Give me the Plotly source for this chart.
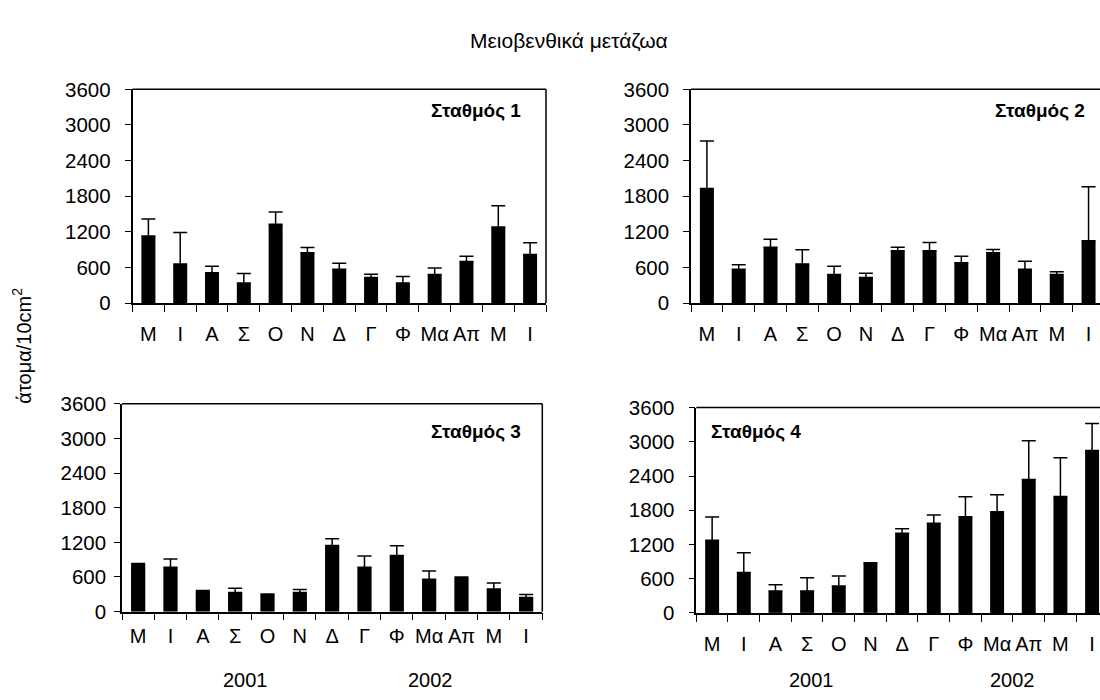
import plotly.graph_objects as go

months = ["Μ", "Ι", "Α", "Σ", "Ο", "Ν", "Δ", "Γ", "Φ", "Μα", "Απ", "Μ", "Ι"]
positions = list(range(len(months)))

# Station 1
st1_mean = [1130, 660, 510, 340, 1330, 850, 570, 430, 340, 480, 700, 1280, 820]
st1_err = [285, 530, 110, 160, 205, 85, 100, 55, 110, 110, 90, 360, 195]
# Station 2
st2_mean = [1930, 570, 940, 660, 480, 430, 880, 880, 680, 850, 570, 480, 1050]
st2_err = [800, 75, 135, 240, 140, 75, 60, 140, 110, 55, 135, 50, 910]
# Station 3
st3_mean = [820, 770, 350, 330, 295, 330, 1145, 770, 970, 560, 575, 390, 245]
st3_err = [15, 140, 15, 75, 10, 55, 115, 195, 170, 145, 25, 105, 50]
# Station 4
st4_mean = [1275, 710, 385, 385, 470, 865, 1395, 1570, 1685, 1775, 2340, 2040, 2845]
st4_err = [405, 345, 110, 230, 175, 15, 80, 145, 350, 295, 680, 680, 475]

station_names = ["Σταθμός 1", "Σταθμός 2", "Σταθμός 3", "Σταθμός 4"]
y_ticks = [0, 600, 1200, 1800, 2400, 3000, 3600]
years = ["2001", "2002"]
main_title = "Μειοβενθικά μετάζωα"
y_title = "άτομα/10cm<sup>2</sup>"

W, H = 1100, 700
FONT = "Liberation Sans, Arial, sans-serif"

# pixel geometry of panels: (left, right, top, bottom, x_upper_range, ylabel_standoff, xlabel_standoff)
panels = [
    (132.5, 546.0, 80, 301, 12.5, 10, 12),
    (691.0, 1100.0, 80, 301, 12.36, 10, 12),
    (122.0, 542.3, 405, 620, 12.5, 4, 6),
    (696.3, 1100.0, 409, 621.3, 12.25, 10, 12),
]
data = [(st1_mean, st1_err), (st2_mean, st2_err), (st3_mean, st3_err), (st4_mean, st4_err)]

fig = go.Figure()
layout = dict(
    width=W, height=H, margin=dict(l=0, r=0, t=0, b=0),
    paper_bgcolor="white", plot_bgcolor="white", showlegend=False,
    font=dict(family=FONT, size=20, color="black"),
    bargap=0.56,
)
shapes = []
annotations = []

for i, ((l, r, t, b, xup, ysd, xsd), (mean, err)) in enumerate(zip(panels, data)):
    n = i + 1
    xa = "x" if n == 1 else f"x{n}"
    ya = "y" if n == 1 else f"y{n}"
    fig.add_trace(go.Bar(
        x=positions, y=mean, xaxis=xa, yaxis=ya,
        marker=dict(color="black", line=dict(width=0)),
        error_y=dict(type="data", symmetric=False, array=err,
                     arrayminus=[0] * len(err), color="black",
                     thickness=1.5, width=7),
    ))
    layout[f"xaxis{'' if n == 1 else n}"] = dict(
        domain=[l / W, r / W], anchor=ya, range=[-0.5, xup],
        tickmode="array", tickvals=positions, ticktext=months,
        ticks="", showgrid=False, zeroline=False,
        showline=True, linecolor="black", linewidth=1.5,
        ticklabelstandoff=xsd,
        tickfont=dict(family=FONT, size=20, color="black"),
        minor=dict(tickmode="linear", tick0=-0.5, dtick=1, ticks="outside",
                   ticklen=7, tickwidth=1.3, tickcolor="black", showgrid=False),
    )
    layout[f"yaxis{'' if n == 1 else n}"] = dict(
        domain=[1 - b / H, 1 - t / H], anchor=xa, range=[0, 3600],
        tickmode="array", tickvals=y_ticks,
        ticks="outside", ticklen=6, tickwidth=1.3, tickcolor="black",
        showgrid=False, zeroline=False,
        showline=True, linecolor="black", linewidth=1.5,
        ticklabelstandoff=ysd,
        tickfont=dict(family=FONT, size=20.5, color="black"),
    )
    # top border
    shapes.append(dict(type="line", xref=f"{xa} domain", yref=f"{ya} domain",
                       x0=0, x1=1, y0=1, y1=1, line=dict(color="black", width=1.5)))
    if r < W:
        shapes.append(dict(type="line", xref=f"{xa} domain", yref=f"{ya} domain",
                           x0=1, x1=1, y0=0, y1=1, line=dict(color="black", width=1.5)))

# station labels
station_pos = [(523.3, 101.7, "right"), (1086.7, 101.7, "right"),
               (523.3, 433.3, "right"), (709.3, 434.0, "left")]
for name, (px, py, anc) in zip(station_names, station_pos):
    annotations.append(dict(text=f"<b>{name}</b>", x=px / W, y=1 - py / H,
                            xref="paper", yref="paper", xanchor=anc, yanchor="middle",
                            showarrow=False, font=dict(family=FONT, size=19, color="black")))

# year labels under bottom panels
year_pos = [(245, 430), (811, 1012.7)]
for (p1, p2) in year_pos:
    for yr, px in zip(years, (p1, p2)):
        annotations.append(dict(text=yr, x=px / W, y=1 - 691 / H, xref="paper", yref="paper",
                                xanchor="center", yanchor="middle", showarrow=False,
                                font=dict(family=FONT, size=20, color="black")))

annotations.append(dict(text=main_title, x=569 / W, y=1 - 29 / H, xref="paper", yref="paper",
                        xanchor="center", yanchor="middle", showarrow=False,
                        font=dict(family=FONT, size=21, color="black")))
annotations.append(dict(text=y_title, x=22 / W, y=1 - 345 / H, xref="paper", yref="paper",
                        xanchor="center", yanchor="middle", textangle=-90, showarrow=False,
                        font=dict(family=FONT, size=20, color="black")))

layout["shapes"] = shapes
layout["annotations"] = annotations
fig.update_layout(**layout)
fig.write_html("out.html")
